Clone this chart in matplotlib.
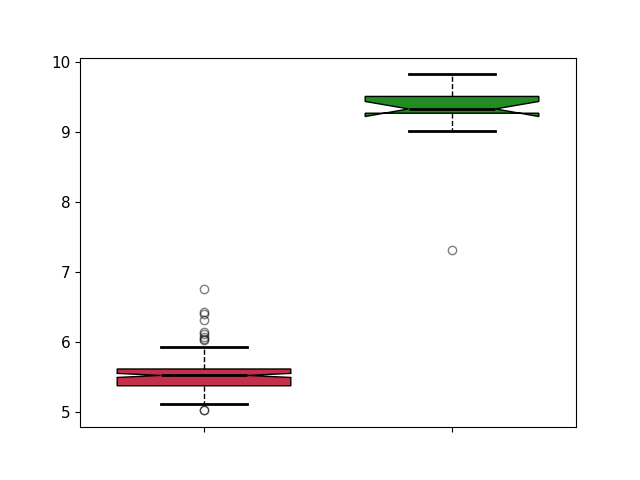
import numpy as np
import matplotlib
matplotlib.use('Agg')
import matplotlib.pyplot as plt

# values
positions = [1, 2]
medians = [5.52, 9.33]
q1 = [5.372, 9.269]
q3 = [5.612, 9.509]
ci_lo = [5.491, 9.222]
ci_hi = [5.549, 9.437]
whis_lo = [5.110, 9.011]
whis_hi = [5.931, 9.824]
fliers_red = [6.76, 6.43, 6.40, 6.31, 6.14, 6.11, 6.07, 6.04, 6.02, 5.03, 5.02]
fliers_green = [7.307]
colors = ['#c4304a', 'forestgreen']

def make_stats():
    """ Build stats dicts for bxp """
    fl = [fliers_red, fliers_green]
    stats = []
    for i in range(len(positions)):
        stats.append(dict(med=medians[i], q1=q1[i], q3=q3[i],
                          cilo=ci_lo[i], cihi=ci_hi[i],
                          whislo=whis_lo[i], whishi=whis_hi[i],
                          fliers=np.array(fl[i])))
    return stats

fig, ax = plt.subplots(figsize=(6.4, 4.8), dpi=100)
bp = ax.bxp(make_stats(), positions=positions, widths=0.7,
            shownotches=True, patch_artist=True,
            boxprops=dict(edgecolor='black', linewidth=1),
            whiskerprops=dict(color='black', linestyle='--', linewidth=1),
            capprops=dict(color='black', linewidth=2),
            medianprops=dict(color='black', linewidth=2),
            flierprops=dict(marker='o', markerfacecolor='none',
                            markeredgecolor='black', alpha=0.5))
for patch, c in zip(bp['boxes'], colors):
    patch.set_facecolor(c)

ax.set_xticks(positions)
ax.set_xticklabels(['', ''])
ax.tick_params(axis='y', labelsize=11)

fig.savefig('out.png', dpi=100)
